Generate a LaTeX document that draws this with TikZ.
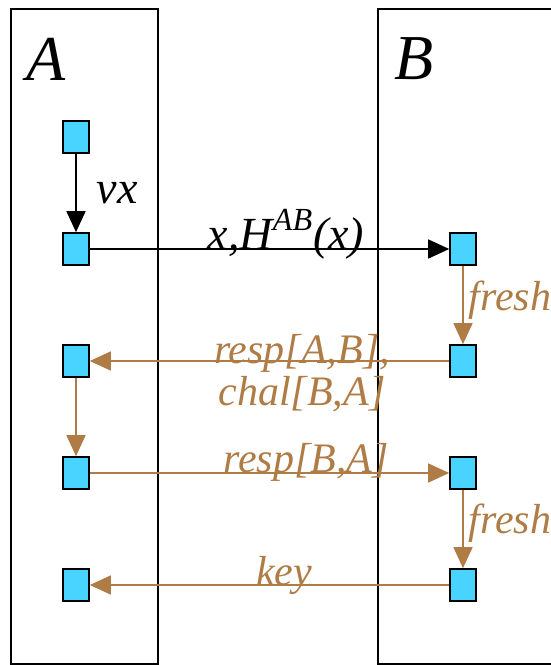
\documentclass[tikz,border=0pt]{standalone}
\usepackage{fontspec}
\setmainfont{Liberation Serif}
\usetikzlibrary{arrows.meta}
\definecolor{msgbrown}{RGB}{176,124,70}
\definecolor{evcyan}{RGB}{72,212,255}

\begin{document}
\begin{tikzpicture}[x=0.5pt,y=-0.5pt,line width=0.75pt,
  ev/.style={draw,fill=evcyan,minimum width=13pt,minimum height=16pt,inner sep=0pt,line width=0.8pt},
  msg/.style={-{Triangle[length=10.5pt,width=9.5pt]}},
  lbl/.style={font=\fontsize{21}{21}\selectfont\itshape,inner sep=0pt},
  role/.style={font=\fontsize{32}{36}\selectfont\itshape,inner sep=0pt}]
\useasboundingbox (0,0) rectangle (551,665);
\clip (0,0) rectangle (551,665);
\draw (11,9) rectangle (158,664) (378,9) rectangle (600,664);
\node[role] (pa) at (46,59) {A};
\node[role] (pb) at (414,59) {B};
\foreach \r/\y in {1/137,2/249,3/361,4/473,5/585}
  \node[ev] (a\r) at (76,\y) {};
\foreach \r/\y in {2/249,3/361,4/473,5/585}
  \node[ev] (b\r) at (463,\y) {};
\draw[msg] (a1)--(a2);
\draw[msg] (a2)--(b2);
\draw[msg,msgbrown] (b2)--(b3);
\draw[msg,msgbrown] (b3)--(a3);
\draw[msg,msgbrown] (a3)--(a4);
\draw[msg,msgbrown] (a4)--(b4);
\draw[msg,msgbrown] (b4)--(b5);
\draw[msg,msgbrown] (b5)--(a5);
\node[lbl,font=\fontsize{23}{23}\selectfont\itshape,anchor=base west] (nu) at (96,203) {νx};
\node[lbl,font=\fontsize{23}{23}\selectfont\itshape,anchor=base] (hx) at (286,249) {x,H\textsuperscript{AB}(x)};
\node[lbl,msgbrown,anchor=base west] (fr1) at (468,310) {fresh};
\node[lbl,msgbrown,align=center,anchor=base] (rc) at (302,405) {resp[A,B],\\chal[B,A]};
\node[lbl,msgbrown,anchor=base] (rb) at (306,472) {resp[B,A]};
\node[lbl,msgbrown,anchor=base west] (fr2) at (468,533) {fresh};
\node[lbl,msgbrown,anchor=base] (ky) at (284,585) {key};
\end{tikzpicture}
\end{document}
